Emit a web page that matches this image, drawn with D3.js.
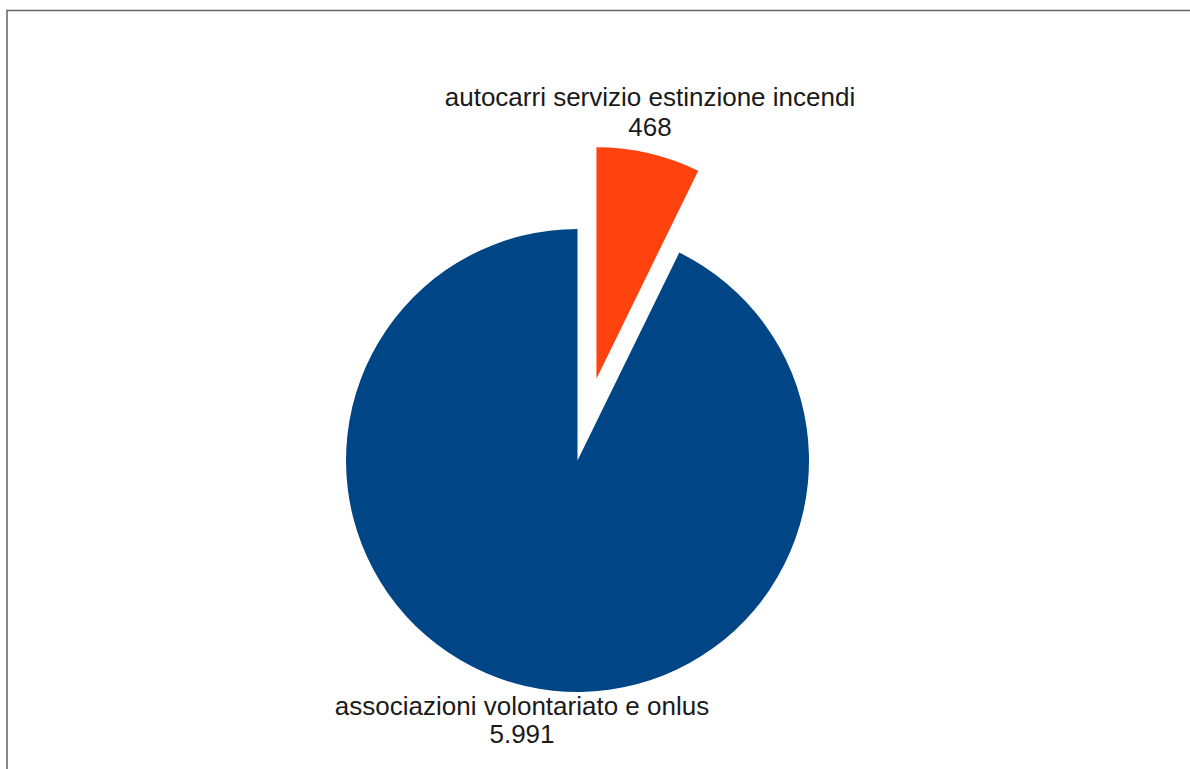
<!DOCTYPE html>
<html>
<head>
<meta charset="utf-8">
<script src="https://cdn.jsdelivr.net/npm/d3@7"></script>
<style>
  html, body { margin: 0; padding: 0; background: #ffffff; }
  svg { display: block; }
</style>
</head>
<body>
<svg id="chart" width="1190" height="769"></svg>
<script>
// ---- data ----
const categories = ["associazioni volontariato e onlus", "autocarri servizio estinzione incendi"];
const values = [5991, 468];
const valueLabels = ["5.991", "468"];
const colors = ["#004586", "#ff420e"];
const exploded = [false, true];

// ---- layout ----
const W = 1190, H = 769;
const cx = 577.5, cy = 460.5, R = 231.5, explodeDist = 84;
const fontSize = 26, lineH = 30;

const svg = d3.select("#chart");

// frame
svg.append("rect")
  .attr("x", 7).attr("y", 10.5)
  .attr("width", W + 20).attr("height", H + 20)
  .attr("fill", "#ffffff")
  .attr("stroke", "#6b6b6b").attr("stroke-width", 1.6);

const data = categories.map((c, i) => ({ cat: c, value: values[i], label: valueLabels[i], color: colors[i], exploded: exploded[i] }));

// small slice starts at 12 o'clock going clockwise, the large one follows
const order = [1, 0];
const pie = d3.pie().sort(null).value(d => d.value);
const arcs = pie(order.map(i => data[i]));

const arc = d3.arc().innerRadius(0).outerRadius(R);

const g = svg.append("g").attr("transform", `translate(${cx},${cy})`);

arcs.forEach(a => {
  const mid = (a.startAngle + a.endAngle) / 2;
  const off = a.data.exploded ? explodeDist : 0;
  const dx = Math.sin(mid) * off, dy = -Math.cos(mid) * off;
  g.append("path")
    .attr("d", arc(a))
    .attr("transform", `translate(${dx},${dy})`)
    .attr("fill", a.data.color);

  // label
  const lr = R + off + 10;
  const ax = Math.sin(mid) * lr, ay = -Math.cos(mid) * lr;
  const t = g.append("text")
    .attr("text-anchor", "middle")
    .attr("font-family", "Liberation Sans, Arial, sans-serif")
    .attr("font-size", fontSize)
    .attr("fill", "#1a1a1a");
  let firstBase;
  if (ay < 0) {
    firstBase = ay - 7 - lineH;
  } else {
    firstBase = ay + 19;
  }
  t.append("tspan").attr("x", ax - 1).attr("y", firstBase).text(a.data.cat);
  t.append("tspan").attr("x", ax - 1).attr("y", firstBase + (ay < 0 ? lineH : 28)).text(a.data.label);
});
</script>
</body>
</html>
